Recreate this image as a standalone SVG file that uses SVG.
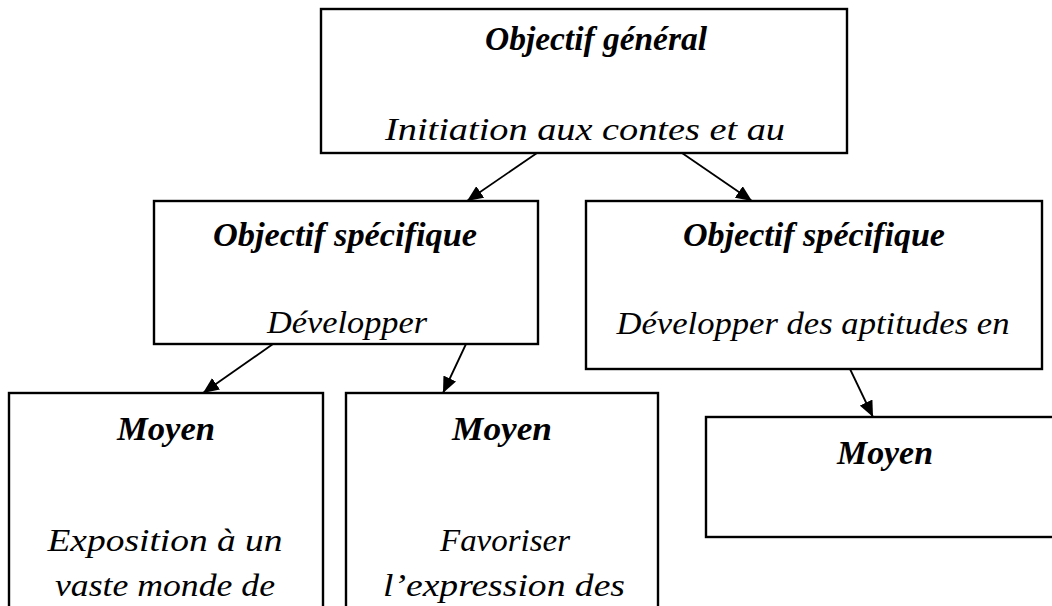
<svg xmlns="http://www.w3.org/2000/svg" width="1052" height="606" viewBox="0 0 1052 606">
  <style>
    .box { fill: #ffffff; stroke: #000000; stroke-width: 2.4; }
    .title { font-family: "Liberation Serif", "DejaVu Serif", serif; font-style: italic; font-weight: bold; font-size: 33px; fill: #000000; text-anchor: middle; }
    .body { font-family: "Liberation Serif", "DejaVu Serif", serif; font-style: italic; font-size: 32px; fill: #000000; text-anchor: middle; }
    .conn { stroke: #000000; stroke-width: 1.8; fill: none; marker-end: url(#arrow); }
  </style>
  <defs>
    <marker id="arrow" viewBox="0 0 16 14" refX="16" refY="7" markerWidth="16" markerHeight="14" markerUnits="userSpaceOnUse" orient="auto">
      <path d="M0,0 L16,7 L0,14 Z" fill="#000000"/>
    </marker>
  </defs>
  <rect x="0" y="0" width="1052" height="606" fill="#ffffff"/>

  <g id="objectif-general">
    <rect class="box" x="321" y="9" width="526" height="144"/>
    <text class="title" x="596" y="50" textLength="222" lengthAdjust="spacingAndGlyphs">Objectif général</text>
    <text class="body" x="585" y="140" textLength="400" lengthAdjust="spacingAndGlyphs">Initiation aux contes et au</text>
  </g>

  <g id="objectif-specifique-1">
    <rect class="box" x="154" y="201" width="384" height="143"/>
    <text class="title" x="345" y="246" textLength="264" lengthAdjust="spacingAndGlyphs">Objectif spécifique</text>
    <text class="body" x="347" y="333" textLength="160" lengthAdjust="spacingAndGlyphs">Développer</text>
  </g>

  <g id="objectif-specifique-2">
    <rect class="box" x="586" y="201" width="456" height="168"/>
    <text class="title" x="814" y="246" textLength="262" lengthAdjust="spacingAndGlyphs">Objectif spécifique</text>
    <text class="body" x="813" y="334" textLength="393" lengthAdjust="spacingAndGlyphs">Développer des aptitudes en</text>
  </g>

  <g id="moyen-1">
    <rect class="box" x="9" y="393" width="314" height="230"/>
    <text class="title" x="166" y="440" textLength="98" lengthAdjust="spacingAndGlyphs">Moyen</text>
    <text class="body" x="165" y="551" textLength="235" lengthAdjust="spacingAndGlyphs">Exposition à un</text>
    <text class="body" x="165" y="596" textLength="220" lengthAdjust="spacingAndGlyphs">vaste monde de</text>
  </g>

  <g id="moyen-2">
    <rect class="box" x="346" y="393" width="312" height="230"/>
    <text class="title" x="502" y="440" textLength="100" lengthAdjust="spacingAndGlyphs">Moyen</text>
    <text class="body" x="505" y="551" textLength="130" lengthAdjust="spacingAndGlyphs">Favoriser</text>
    <text class="body" x="504" y="596" textLength="242" lengthAdjust="spacingAndGlyphs">l’expression des</text>
  </g>

  <g id="moyen-3">
    <rect class="box" x="706" y="417" width="360" height="120"/>
    <text class="title" x="885" y="464" textLength="96" lengthAdjust="spacingAndGlyphs">Moyen</text>
  </g>

  <g id="connectors">
    <line class="conn" x1="537" y1="153" x2="467" y2="201"/>
    <line class="conn" x1="682" y1="153" x2="752" y2="201"/>
    <line class="conn" x1="273" y1="344" x2="203" y2="393"/>
    <line class="conn" x1="466" y1="344" x2="443" y2="393"/>
    <line class="conn" x1="850" y1="369" x2="873" y2="417"/>
  </g>
</svg>
